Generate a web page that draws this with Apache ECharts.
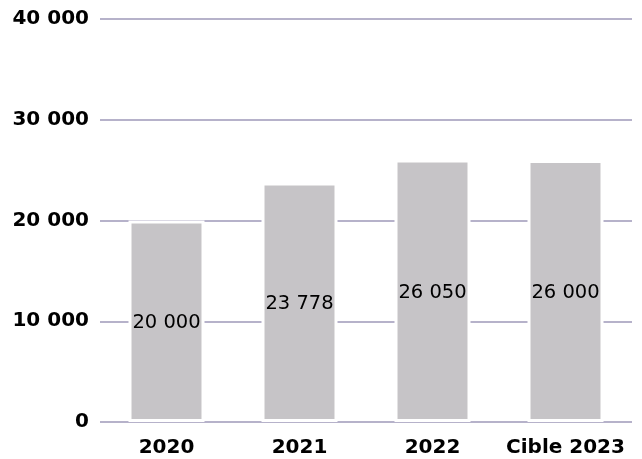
<!DOCTYPE html>
<html><head><meta charset="utf-8">
<script src="https://cdn.jsdelivr.net/npm/echarts@6/dist/echarts.min.js"></script>
<style>html,body{margin:0;padding:0;background:#fff}#c{width:642px;height:459px}</style>
</head><body><div id="c"></div>
<script>
const categories = ['2020', '2021', '2022', 'Cible 2023'];
const values = [20000, 23778, 26050, 26000];
const yTicks = [0, 10000, 20000, 30000, 40000];

function fmt(v) { return String(v).replace(/\B(?=(\d{3})+(?!\d))/g, ' '); }

const chart = echarts.init(document.getElementById('c'), null, {renderer: 'canvas'});
chart.setOption({
  animation: false,
  grid: {left: 100, right: 10, top: 19, bottom: 37, containLabel: false},
  xAxis: {
    type: 'category', data: categories,
    axisLine: {show: false}, axisTick: {show: false},
    axisLabel: {interval: 0, fontFamily: 'DejaVu Sans', fontWeight: 'bold', fontSize: 20, color: '#000', margin: 16}
  },
  yAxis: {
    type: 'value', min: yTicks[0], max: yTicks[yTicks.length - 1], interval: 10000,
    axisLine: {show: false}, axisTick: {show: false},
    splitLine: {lineStyle: {color: '#b6b2ca', width: 2}},
    axisLabel: {fontFamily: 'DejaVu Sans', fontWeight: 'bold', fontSize: 20, color: '#000', margin: 11, formatter: fmt}
  },
  series: [{
    type: 'bar', data: values, barWidth: 76,
    itemStyle: {color: '#c6c4c7', borderColor: '#fff', borderWidth: 3},
    label: {show: true, position: 'inside', offset: [0, 2], formatter: p => fmt(p.value),
      fontFamily: 'DejaVu Sans', fontSize: 19.5, color: '#000'}
  }]
});
</script></body></html>
